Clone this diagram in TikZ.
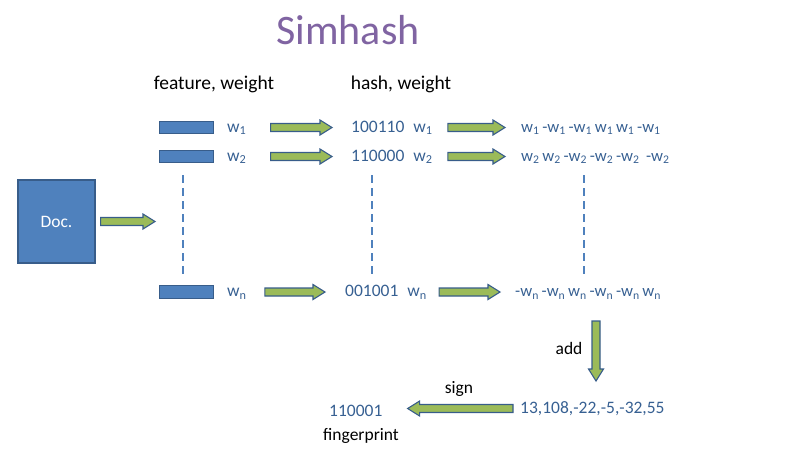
\documentclass[tikz,border=0pt]{standalone}
\usepackage{fontspec}
\setmainfont{Carlito}
\usetikzlibrary{calc,positioning}
\definecolor{slideblue}{RGB}{79,129,189}
\definecolor{edgeblue}{RGB}{56,93,138}
\definecolor{textblue}{RGB}{55,96,146}
\definecolor{titlepurple}{RGB}{128,100,162}
\definecolor{arrowgreen}{RGB}{155,187,89}

\newcommand{\titlefont}{\fontsize{42}{48}\selectfont}
\newcommand{\headfont}{\fontsize{19.5}{23}\selectfont}
\newcommand{\rowfont}{\fontsize{17.5}{21}\selectfont}
\newcommand{\vecfont}{\fontsize{16.7}{20}\selectfont}
\newcommand{\wsub}[1]{w\textsubscript{#1}}

\tikzset{
  docbox/.style={draw=edgeblue, fill=slideblue, line width=1.2pt, minimum width=77pt, minimum height=83pt, text=white, font=\rowfont},
  featbar/.style={draw=edgeblue, fill=slideblue, line width=1pt, minimum width=54pt, minimum height=12.5pt, inner sep=0pt},
  rowtext/.style={font=\rowfont, text=textblue, inner sep=0pt, text height=12pt, text depth=3pt, anchor=west},
  plaintext/.style={font=\rowfont, inner sep=0pt},
  arrowbody/.style={draw=edgeblue, fill=arrowgreen, line width=1.1pt, line join=miter},
  dotsline/.style={draw=slideblue, line width=2.2pt, dash pattern=on 8pt off 5pt}
}

% block arrow: from #1 to #2, kept #3 and #4 away from the two ends
\newcommand{\blockarrow}[4]{%
  \coordinate (tail) at ($(#1)!#3!(#2)$);
  \coordinate (tip) at ($(#2)!#4!(#1)$);
  \coordinate (neck) at ($(tip)!12pt!(tail)$);
  \filldraw[arrowbody] ($(tail)!4pt!90:(tip)$) -- ($(neck)!4pt!-90:(tail)$)
    -- ($(neck)!7.5pt!-90:(tail)$) -- (tip) -- ($(neck)!7.5pt!90:(tail)$)
    -- ($(neck)!4pt!90:(tail)$) -- ($(tail)!4pt!-90:(tip)$) -- cycle;
}

\begin{document}
\begin{tikzpicture}[x=1pt, y=-1pt]
  \useasboundingbox (0,0) rectangle (786,456);

  % Title and headings
  \node[font=\titlefont, text=titlepurple] (title) at (348,30) {Simhash};
  \node[font=\headfont] (feathead) at (214,84) {feature, weight};
  \node[font=\headfont] (hashhead) at (401,84) {hash, weight};

  % Document
  \node[docbox] (doc) at (56.5,221.5) {Doc.};
  \coordinate (docin) at (155,221.5);
  \blockarrow{doc.east}{docin}{5pt}{0pt}

  % Feature bars
  \foreach \n/\y in {1/127.5, 2/156.5, n/292}
    \node[featbar] (bar\n) at (186,\y) {};

  % Rows
  \node[rowtext] (fw1) at (227,127.5) {\wsub{1}};
  \node[rowtext] (fw2) at (227,156.5) {\wsub{2}};
  \node[rowtext] (fwn) at (227,292) {\wsub{n}};

  \node[rowtext] (hw1) at (351,127.5) {100110\hspace{9pt}\wsub{1}};
  \node[rowtext] (hw2) at (351,156.5) {110000\hspace{9pt}\wsub{2}};
  \node[rowtext] (hwn) at (345,292) {001001\hspace{9pt}\wsub{n}};

  \node[rowtext, font=\vecfont] (vec1) at (521,127.5)
    {\wsub{1}\,-\wsub{1}\,-\wsub{1}\,\wsub{1}\,\wsub{1}\,-\wsub{1}};
  \node[rowtext, font=\vecfont] (vec2) at (521,156.5)
    {\wsub{2}\,\wsub{2}\,-\wsub{2}\,-\wsub{2}\,-\wsub{2}\, -\wsub{2}};
  \node[rowtext, font=\vecfont] (vecn) at (515,292)
    {-\wsub{n}\,-\wsub{n}\,\wsub{n}\,-\wsub{n}\,-\wsub{n}\,\wsub{n}};

  \blockarrow{fw1.east}{hw1.west}{24pt}{19pt}
  \blockarrow{hw1.east}{vec1.west}{15pt}{16pt}
  \blockarrow{fw2.east}{hw2.west}{24pt}{19pt}
  \blockarrow{hw2.east}{vec2.west}{15pt}{16pt}
  \blockarrow{fwn.east}{hwn.west}{18pt}{20pt}
  \blockarrow{hwn.east}{vecn.west}{12pt}{15pt}

  % Vertical dots
  \foreach \x in {183,372,584}
    \draw[dotsline] (\x,175) -- (\x,275);

  % Add and sign
  \coordinate (addtop) at (596,321);
  \coordinate (addbot) at (596,381);
  \blockarrow{addtop}{addbot}{0pt}{0pt}
  \node[plaintext] (addlbl) at (569,348) {add};

  \node[rowtext] (sum) at (520,408.5) {13,108,-22,-5,-32,55};
  \node[rowtext] (fp) at (329,412) {110001};
  \blockarrow{sum.west}{fp.east |- sum.west}{7pt}{25pt}
  \node[plaintext] (signlbl) at (459,389) {sign};
  \node[plaintext] (fplbl) at (361,436) {fingerprint};
\end{tikzpicture}
\end{document}
